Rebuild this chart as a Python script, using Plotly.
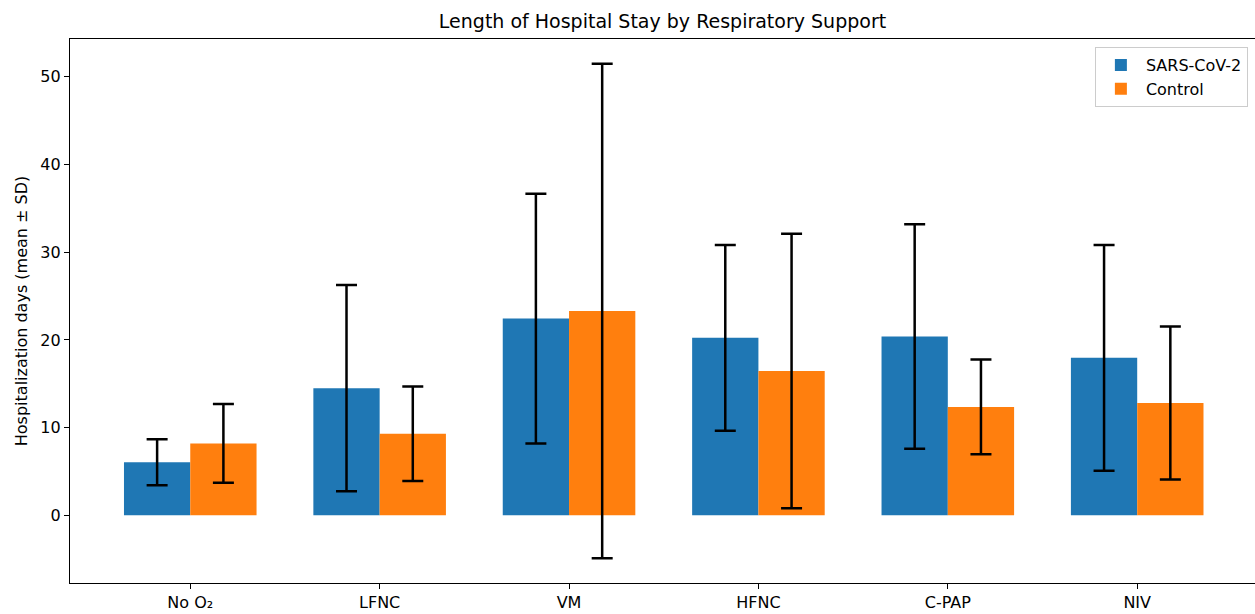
import plotly.graph_objects as go

categories = ["No O₂", "LFNC", "VM", "HFNC", "C-PAP", "NIV"]
sars_mean = [6.04, 14.5, 22.44, 20.24, 20.4, 17.96]
sars_sd = [2.62, 11.77, 14.24, 10.6, 12.8, 12.87]
control_mean = [8.2, 9.3, 23.3, 16.45, 12.36, 12.8]
control_sd = [4.5, 5.4, 28.2, 15.65, 5.41, 8.73]

BLUE = "#1f77b4"
ORANGE = "#ff7f0e"
FONT = "DejaVu Sans"

fig = go.Figure()
for name, mean, sd, color in [
    ("SARS-CoV-2", sars_mean, sars_sd, BLUE),
    ("Control", control_mean, control_sd, ORANGE),
]:
    fig.add_trace(go.Bar(
        x=categories, y=mean, name=name,
        marker=dict(color=color, line=dict(width=0)),
        error_y=dict(type="data", array=sd, visible=True,
                     color="black", thickness=2.5, width=10.5),
    ))

fig.update_layout(
    width=1255, height=614,
    margin=dict(l=70, r=0, t=39, b=31),
    paper_bgcolor="white", plot_bgcolor="white",
    barmode="group", bargap=0.3, bargroupgap=0,
    font=dict(family=FONT, size=16, color="black"),
    title=dict(text="Length of Hospital Stay by Respiratory Support",
               xref="paper", x=0.5, xanchor="center",
               yref="container", y=0.965, yanchor="middle",
               font=dict(family=FONT, size=19, color="black")),
    showlegend=True,
    legend=dict(x=0.994, y=0.985, xanchor="right", yanchor="top",
                bgcolor="rgba(255,255,255,0.8)", bordercolor="#cccccc",
                borderwidth=1, font=dict(family=FONT, size=16),
                itemwidth=40, tracegroupgap=2),
    xaxis=dict(type="category", range=[-0.635, 5.622],
               showline=True, linecolor="black", linewidth=1.2, mirror=True,
               ticks="outside", ticklen=5, tickcolor="black",
               showgrid=False, zeroline=False,
               tickfont=dict(family=FONT, size=16)),
    yaxis=dict(range=[-7.72, 54.32], tickvals=[0, 10, 20, 30, 40, 50],
               showline=True, linecolor="black", linewidth=1.2, mirror=False,
               ticks="outside", ticklen=5, tickcolor="black",
               showgrid=False, zeroline=False,
               title=dict(text="Hospitalization days (mean ± SD)",
                          font=dict(family=FONT, size=16), standoff=8),
               tickfont=dict(family=FONT, size=16)),
)

fig.write_html("out.html")
